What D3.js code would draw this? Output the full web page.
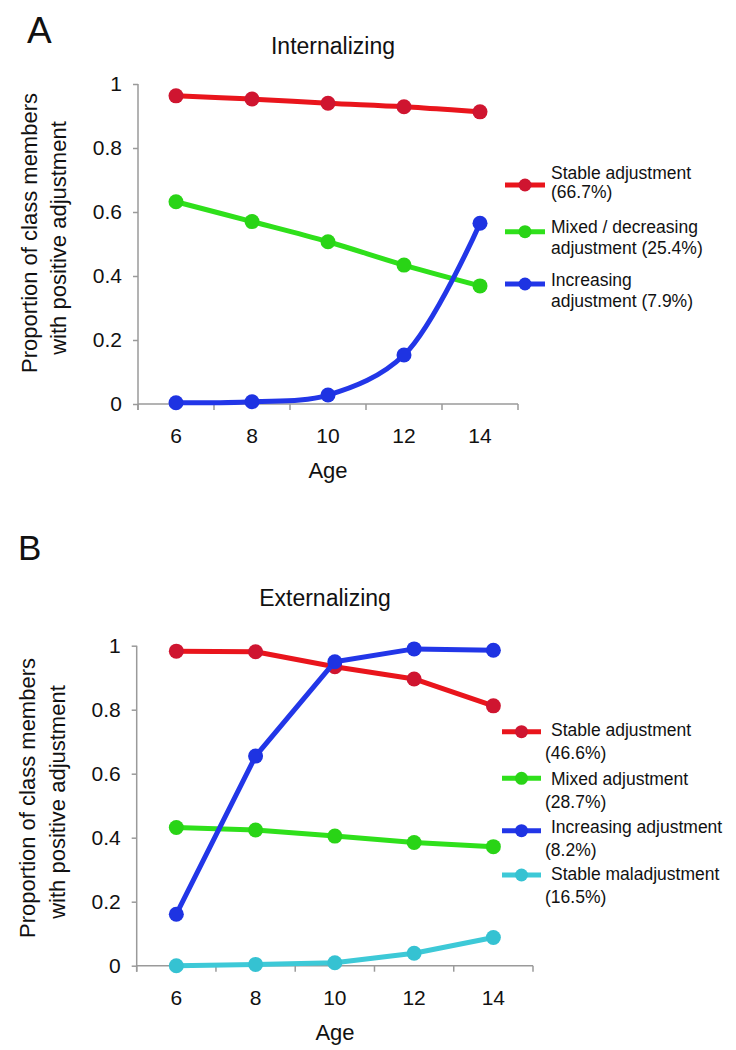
<!DOCTYPE html>
<html>
<head>
<meta charset="utf-8">
<script src="https://cdn.jsdelivr.net/npm/d3@7"></script>
<style>
html,body{margin:0;padding:0;background:#fff;}
svg{display:block;font-family:"Liberation Sans", Arial, Helvetica, sans-serif;}
</style>
</head>
<body>
<svg id="chart" width="736" height="1050"></svg>
<script>
// ---------- data ----------
const ages = [6, 8, 10, 12, 14];
const yTicks = [0, 0.2, 0.4, 0.6, 0.8, 1];
const yTickLabels = ["0", "0.2", "0.4", "0.6", "0.8", "1"];

const internalStable     = [0.963, 0.953, 0.940, 0.929, 0.913];
const internalMixed      = [0.632, 0.570, 0.507, 0.434, 0.369];
const internalIncreasing = [0.004, 0.007, 0.028, 0.153, 0.565];

const externalStable      = [0.983, 0.981, 0.934, 0.896, 0.812];
const externalMixed       = [0.432, 0.424, 0.405, 0.385, 0.372];
const externalIncreasing  = [0.161, 0.655, 0.950, 0.990, 0.986];
const externalMaladjusted = [0.000, 0.004, 0.009, 0.039, 0.088];

const internalLabels = [
  ["Stable adjustment", "(66.7%)"],
  ["Mixed / decreasing", "adjustment  (25.4%)"],
  ["Increasing", "adjustment (7.9%)"]
];
const externalLabels = [
  ["Stable adjustment", "(46.6%)"],
  ["Mixed adjustment", "(28.7%)"],
  ["Increasing adjustment", "(8.2%)"],
  ["Stable maladjustment", "(16.5%)"]
];

const titleA = "Internalizing";
const titleB = "Externalizing";
const yLabelLines = ["Proportion of class members", "with positive adjustment"];
const xLabel = "Age";

// ---------- styles ----------
const COLORS = {
  red:   {line: "#e9151c", dot: "#cf1530"},
  green: {line: "#2fe01b", dot: "#29d416"},
  blue:  {line: "#2236e8", dot: "#1e33e2"},
  cyan:  {line: "#3dc9d7", dot: "#35c2d2"}
};
const AXIS_COLOR = "#9a9a9a";
const FONT_COLOR = "#111";

const svg = d3.select("#chart");

function drawPanel(cfg) {
  const g = svg.append("g");
  const x = d3.scaleBand().domain(ages).range([cfg.x0, cfg.x1]);
  const y = d3.scaleLinear().domain([0, 1]).range([cfg.yBottom, cfg.yTop]);

  // panel letter
  g.append("text").attr("x", cfg.letterX).attr("y", cfg.letterY)
    .attr("font-size", cfg.letterSize).attr("fill", FONT_COLOR).text(cfg.letter);

  // title
  g.append("text").attr("x", cfg.titleX).attr("y", cfg.titleY)
    .attr("text-anchor", "middle").attr("font-size", 23).attr("fill", FONT_COLOR)
    .text(cfg.title);

  // y axis
  const yAxis = d3.axisLeft(y).tickValues(yTicks)
    .tickFormat((d, i) => yTickLabels[i]).tickSize(5).tickSizeOuter(0).tickPadding(11);
  const ya = g.append("g").attr("transform", `translate(${cfg.x0},0)`).call(yAxis);
  ya.select(".domain").attr("stroke", AXIS_COLOR).attr("stroke-width", 1.5)
    .attr("d", `M0,${cfg.yTop}V${cfg.yBottom + 6}`);
  ya.selectAll(".tick line").attr("stroke", AXIS_COLOR).attr("stroke-width", 1.5);
  ya.selectAll(".tick text").attr("font-size", 21).attr("fill", FONT_COLOR)
    .attr("font-family", '"Liberation Sans", Arial, sans-serif');

  // x axis (category axis, ticks at band boundaries)
  const xa = g.append("g").attr("transform", `translate(0,${cfg.yBottom})`);
  xa.append("path").attr("d", `M${cfg.x0},0H${cfg.x1}`)
    .attr("stroke", AXIS_COLOR).attr("stroke-width", 1.5).attr("fill", "none");
  const bounds = ages.map(a => x(a)).concat([cfg.x1]);
  xa.selectAll("line.bt").data(bounds).join("line").attr("class", "bt")
    .attr("x1", d => d).attr("x2", d => d).attr("y1", 0).attr("y2", 6)
    .attr("stroke", AXIS_COLOR).attr("stroke-width", 1.5);
  xa.selectAll("text.xl").data(ages).join("text").attr("class", "xl")
    .attr("x", d => x(d) + x.bandwidth() / 2).attr("y", 39)
    .attr("text-anchor", "middle").attr("font-size", 21).attr("fill", FONT_COLOR)
    .text(d => d);

  // axis labels
  g.append("text").attr("x", cfg.ageX).attr("y", cfg.yBottom + 74)
    .attr("text-anchor", "middle").attr("font-size", 22).attr("fill", FONT_COLOR).text(xLabel);
  yLabelLines.forEach((t, i) => {
    g.append("text")
      .attr("transform", `translate(${cfg.yLabX[i]},${cfg.yLabC[i]}) rotate(-90)`)
      .attr("text-anchor", "middle").attr("font-size", 22).attr("fill", FONT_COLOR).text(t);
  });

  // series
  const cx = d => x(d.age) + x.bandwidth() / 2;
  const line = d3.line().x(cx).y(d => y(d.v)).curve(cfg.curve);
  cfg.series.forEach(s => {
    const pts = ages.map((a, i) => ({age: a, v: s.values[i]}));
    g.append("path").datum(pts).attr("d", line)
      .attr("fill", "none").attr("stroke", s.color.line).attr("stroke-width", 5)
      .attr("stroke-linejoin", "round").attr("stroke-linecap", "round");
    g.selectAll(null).data(pts).join("circle")
      .attr("cx", cx).attr("cy", d => y(d.v)).attr("r", 7.5)
      .attr("fill", s.color.dot);
  });

  // legend
  cfg.series.forEach((s, i) => {
    const L = cfg.legend[i];
    g.append("line").attr("x1", cfg.legX0).attr("x2", cfg.legX1)
      .attr("y1", L.ly).attr("y2", L.ly)
      .attr("stroke", s.color.line).attr("stroke-width", 5);
    g.append("circle").attr("cx", (cfg.legX0 + cfg.legX1) / 2).attr("cy", L.ly)
      .attr("r", 6.5).attr("fill", s.color.dot);
    s.label.forEach((t, j) => {
      g.append("text").attr("x", cfg.legTextX[j]).attr("y", L.ty[j] + 6)
        .attr("font-size", 17.5).attr("fill", FONT_COLOR).text(t);
    });
  });
}

drawPanel({
  letter: "A", letterX: 27, letterY: 43, letterSize: 37,
  title: titleA, titleX: 333, titleY: 54,
  x0: 138, x1: 518, yTop: 84, yBottom: 404,
  ageX: 328, yLabX: [37, 66], yLabC: [233, 238],
  curve: d3.curveCatmullRom,
  series: [
    {values: internalStable, color: COLORS.red, label: internalLabels[0]},
    {values: internalMixed, color: COLORS.green, label: internalLabels[1]},
    {values: internalIncreasing, color: COLORS.blue, label: internalLabels[2]}
  ],
  legX0: 505, legX1: 545, legTextX: [551, 551],
  legend: [
    {ly: 185, ty: [172.7, 191.7]},
    {ly: 231.7, ty: [226.7, 248.3]},
    {ly: 284, ty: [280, 300.7]}
  ]
});

drawPanel({
  letter: "B", letterX: 18, letterY: 560, letterSize: 35,
  title: titleB, titleX: 325, titleY: 606,
  x0: 136.7, x1: 533, yTop: 645.7, yBottom: 965.7,
  ageX: 335, yLabX: [35, 65], yLabC: [798, 802],
  curve: d3.curveLinear,
  series: [
    {values: externalStable, color: COLORS.red, label: externalLabels[0]},
    {values: externalMixed, color: COLORS.green, label: externalLabels[1]},
    {values: externalIncreasing, color: COLORS.blue, label: externalLabels[2]},
    {values: externalMaladjusted, color: COLORS.cyan, label: externalLabels[3]}
  ],
  legX0: 502, legX1: 541, legTextX: [551, 545],
  legend: [
    {ly: 731.7, ty: [730, 752.7]},
    {ly: 778.3, ty: [779.3, 801.7]},
    {ly: 830.7, ty: [826.7, 850]},
    {ly: 875, ty: [874.3, 896.7]}
  ]
});
</script>
</body>
</html>
